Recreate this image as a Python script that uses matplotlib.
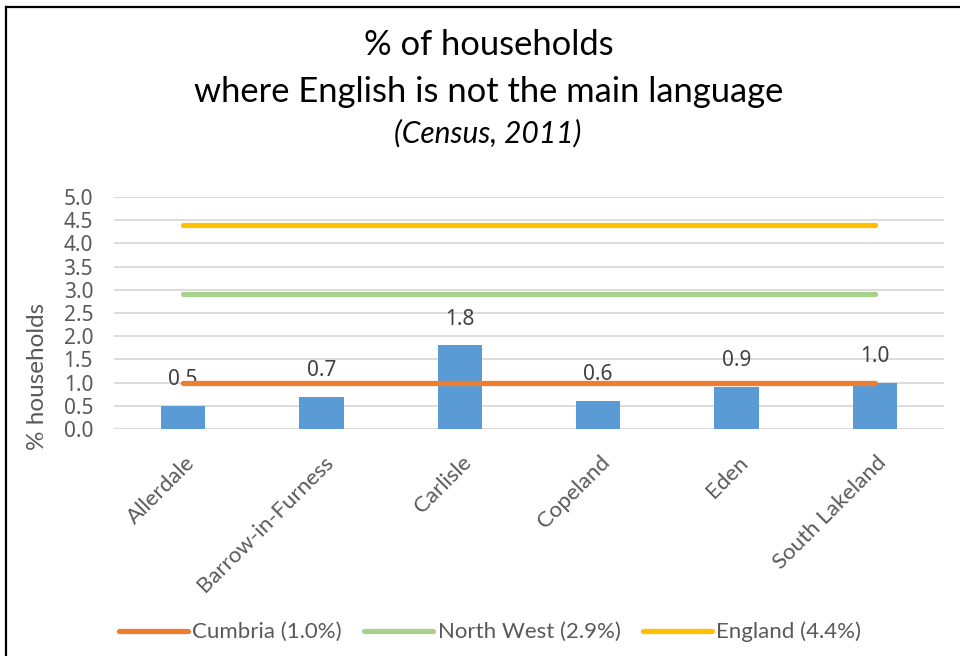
import matplotlib
matplotlib.use("Agg")
import matplotlib.pyplot as plt
from matplotlib.lines import Line2D
import matplotlib.transforms as mtransforms

categories = ["Allerdale", "Barrow-in-Furness", "Carlisle", "Copeland", "Eden", "South Lakeland"]
values = [0.5, 0.7, 1.8, 0.6, 0.9, 1.0]
ref_names = ["Cumbria (1.0%)", "North West (2.9%)", "England (4.4%)"]
ref_values = [1.0, 2.9, 4.4]
ref_colors = ["#ED7D31", "#A9D18E", "#FFC000"]
bar_color = "#5B9BD5"
yticks = [0.0, 0.5, 1.0, 1.5, 2.0, 2.5, 3.0, 3.5, 4.0, 4.5, 5.0]

TXT = "#595959"
FONT = ["Lato", "DejaVu Sans"]
NUMFONT = ["Noto Sans", "DejaVu Sans"]

fig = plt.figure(figsize=(9.6, 6.56), dpi=100)
ax = fig.add_axes([114/960, 1-429/656, (944-114)/960, (429-197)/656])

x = list(range(len(categories)))
ax.bar(x, values, width=0.32, color=bar_color, zorder=2)
for xi, v in zip(x, values):
    ax.annotate(f"{v:.1f}", (xi, v), xytext=(0, 19), textcoords="offset points",
                ha="center", va="center", fontsize=15, color="#404040", family=NUMFONT, zorder=1)

handles = []
for name, val, col in zip(ref_names, ref_values, ref_colors):
    ln, = ax.plot(x, [val]*len(x), color=col, lw=3.8, solid_capstyle="round", zorder=3, label=name)
    handles.append(ln)

ax.set_xlim(-0.5, len(categories)-0.5)
ax.set_ylim(0, 5)
ax.set_yticks(yticks)
ax.set_yticklabels([f"{t:.1f}" for t in yticks], fontsize=15, color=TXT, family=NUMFONT)
ax.yaxis.grid(True, color="#D9D9D9", lw=1.3, zorder=0)
ax.set_axisbelow(True)
for s in ax.spines.values():
    s.set_visible(False)
ax.tick_params(axis="y", length=0, pad=15)
ax.tick_params(axis="x", length=0, pad=22)
ax.set_xticks(x)
ax.set_xticklabels(categories, rotation=45, ha="right", va="center", rotation_mode="anchor",
                   fontsize=16, color=TXT, family=FONT)
shift = mtransforms.ScaledTranslation(6/72, 0, fig.dpi_scale_trans)
for lbl in ax.get_xticklabels():
    lbl.set_transform(lbl.get_transform() + shift)

fig.text(38/960, 1-376/656, "% households", rotation=90, ha="center", va="center",
         fontsize=17.5, color=TXT, family=FONT)

fig.text(489/960, 1-45/656, "% of households", ha="center", va="center", fontsize=24.8, color="black", family=FONT)
fig.text(489/960, 1-92/656, "where English is not the main language", ha="center", va="center",
         fontsize=24.8, color="black", family=FONT)
fig.text(488/960, 1-133/656, "(Census, 2011)", ha="center", va="center", fontsize=21.5,
         style="italic", color="black", family=FONT)

leg = fig.legend(handles=handles, loc="center", bbox_to_anchor=(490/960, 1-632/656), ncol=3,
                 frameon=False, handlelength=3.1, handletextpad=0.2, columnspacing=1.0,
                 prop={"family": FONT, "size": 16})
for t in leg.get_texts():
    t.set_color(TXT)

# outer frame (top and left borders)
fig.add_artist(Line2D([6/960, 6/960], [0, 1-7/656], transform=fig.transFigure, color="black", lw=1.6))
fig.add_artist(Line2D([6/960, 1], [1-7/656, 1-7/656], transform=fig.transFigure, color="black", lw=1.6))

fig.savefig("out.png", dpi=100, facecolor="white")
